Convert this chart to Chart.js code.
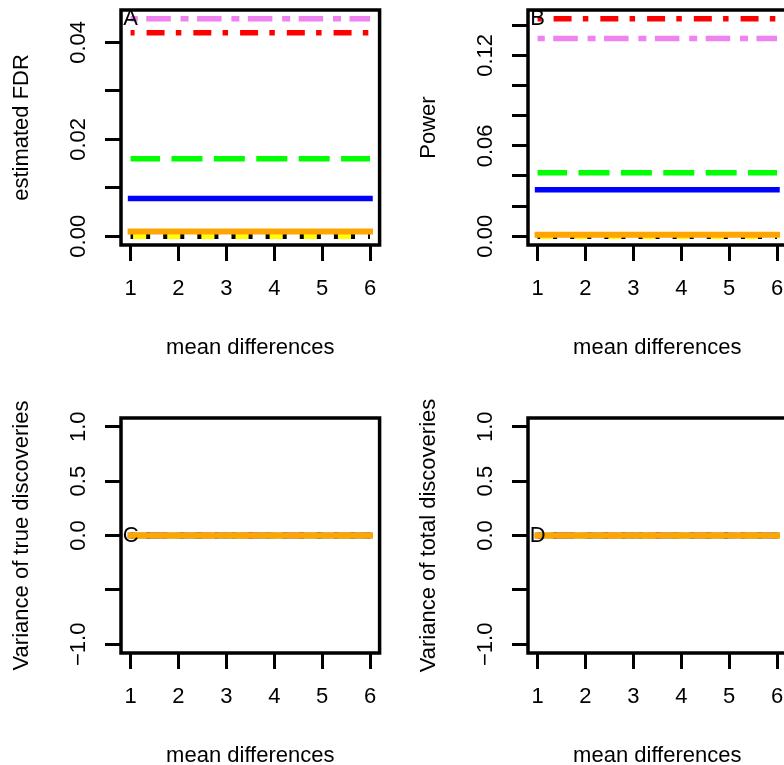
<!DOCTYPE html>
<html>
<head>
<meta charset="utf-8">
<script src="https://cdn.jsdelivr.net/npm/chart.js@4"></script>
<style>
  html, body { margin: 0; padding: 0; background: #fff; }
  body { width: 784px; height: 765px; overflow: hidden; position: relative; }
  canvas { position: absolute; }
</style>
</head>
<body>
<canvas id="panelA" width="400" height="440" style="left:0;top:-40px"></canvas>
<canvas id="panelB" width="400" height="440" style="left:407px;top:-40px"></canvas>
<canvas id="panelC" width="400" height="440" style="left:0;top:368px"></canvas>
<canvas id="panelD" width="400" height="440" style="left:407px;top:368px"></canvas>
<script>
const meanDiffs = [1, 2, 3, 4, 5, 6]

// A: estimated FDR
const fdrViolet = [0.0449, 0.0449, 0.0449, 0.0449, 0.0449, 0.0449]
const fdrRed = [0.0420, 0.0420, 0.0420, 0.0420, 0.0420, 0.0420]
const fdrGreen = [0.0160, 0.0160, 0.0160, 0.0160, 0.0160, 0.0160]
const fdrBlue = [0.0078, 0.0078, 0.0078, 0.0078, 0.0078, 0.0078]
const fdrYellow = [0, 0, 0, 0, 0, 0]
const fdrBlack = [0, 0, 0, 0, 0, 0]
const fdrOrange = [0.0010, 0.0010, 0.0010, 0.0010, 0.0010, 0.0010]

// B: power
const powViolet = [0.1311, 0.1311, 0.1311, 0.1311, 0.1311, 0.1311]
const powRed = [0.1443, 0.1443, 0.1443, 0.1443, 0.1443, 0.1443]
const powGreen = [0.0421, 0.0421, 0.0421, 0.0421, 0.0421, 0.0421]
const powBlue = [0.0309, 0.0309, 0.0309, 0.0309, 0.0309, 0.0309]
const powYellow = [0, 0, 0, 0, 0, 0]
const powBlack = [0, 0, 0, 0, 0, 0]
const powOrange = [0.0010, 0.0010, 0.0010, 0.0010, 0.0010, 0.0010]

// C: variance of true discoveries
const vtrueViolet = [0, 0, 0, 0, 0, 0]
const vtrueRed = [0, 0, 0, 0, 0, 0]
const vtrueGreen = [0, 0, 0, 0, 0, 0]
const vtrueBlue = [0, 0, 0, 0, 0, 0]
const vtrueYellow = [0, 0, 0, 0, 0, 0]
const vtrueBlack = [0, 0, 0, 0, 0, 0]
const vtrueOrange = [0, 0, 0, 0, 0, 0]

// D: variance of total discoveries
const vtotViolet = [0, 0, 0, 0, 0, 0]
const vtotRed = [0, 0, 0, 0, 0, 0]
const vtotGreen = [0, 0, 0, 0, 0, 0]
const vtotBlue = [0, 0, 0, 0, 0, 0]
const vtotYellow = [0, 0, 0, 0, 0, 0]
const vtotBlack = [0, 0, 0, 0, 0, 0]
const vtotOrange = [0, 0, 0, 0, 0, 0]

const xTicks = [1, 2, 3, 4, 5, 6]
const xTickLabels = ['1', '2', '3', '4', '5', '6']
const fdrTicks = [0, 0.01, 0.02, 0.03, 0.04]
const fdrTickLabels = ['0.00', '', '0.02', '', '0.04']
const powTicks = [0, 0.02, 0.04, 0.06, 0.08, 0.10, 0.12, 0.14]
const powTickLabels = ['0.00', '', '', '0.06', '', '', '0.12', '']
const varTicks = [-1, -0.5, 0, 0.5, 1]
const varTickLabels = ['\u22121.0', '', '0.0', '0.5', '1.0']

const FAMILY = "'Liberation Sans', Arial, sans-serif"
const FONT = { family: FAMILY, size: 22 }
Chart.defaults.font.family = FAMILY
Chart.defaults.color = '#000'

// dash patterns (px)
const styles = {
  orange: { color: '#FFA500', width: 6, dash: [], offset: 0, cap: 'square' },
  black: { color: '#000000', width: 5.5, dash: [4, 13.07], offset: 1.5, cap: 'butt' },
  yellow: { color: '#FFFF00', width: 5.5, dash: [17.07, 17.07], offset: 1.5, cap: 'butt' },
  blue: { color: '#0000FF', width: 5.5, dash: [], offset: 0, cap: 'square' },
  green: { color: '#00FF00', width: 5.5, dash: [31, 11.4], offset: 1.5, cap: 'butt' },
  red: { color: '#FF0000', width: 5.5, dash: [5.5, 12, 18, 11.25], offset: 1.5, cap: 'butt' },
  violet: { color: '#EE82EE', width: 5.5, dash: [8, 8.5, 24.5, 9.8], offset: 0.8, cap: 'butt' },
}

const measure = document.createElement('canvas').getContext('2d')
measure.font = '22px ' + FAMILY

function makePanel(id, letter, yTitle, series, yTicks, yTickLabels) {
  const all = series.flatMap((s) => s[1])
  const top = Math.max(...all)
  let lo = Math.min(...all)
  let hi = top
  if (lo === hi) { lo -= 1; hi += 1 }
  const pad = 0.04 * (hi - lo)
  const widest = Math.max(...yTickLabels.map((l) => measure.measureText(l).width))

  const datasets = series.map(([name, vals]) => {
    const st = styles[name]
    return {
      label: name,
      data: meanDiffs.map((x, i) => ({ x, y: vals[i] })),
      borderColor: st.color,
      backgroundColor: st.color,
      borderWidth: st.width,
      borderDash: st.dash,
      borderDashOffset: st.offset,
      borderCapStyle: st.cap,
      pointRadius: 0,
      tension: 0,
      fill: false,
    }
  })

  const grid = { drawOnChartArea: false, drawTicks: true, tickLength: 16, lineWidth: 3, color: '#000' }

  const decor = {
    id: 'decor',
    afterDatasetsDraw(chart) {
      const { ctx, scales } = chart
      ctx.save()
      ctx.font = '22px ' + FAMILY
      ctx.fillStyle = '#000'
      ctx.textAlign = 'center'
      ctx.textBaseline = 'middle'
      ctx.fillText(letter, scales.x.getPixelForValue(1), scales.y.getPixelForValue(top))
      ctx.restore()
    },
    afterDraw(chart) {
      const { ctx, chartArea: a } = chart
      ctx.save()
      ctx.strokeStyle = '#000'
      ctx.lineWidth = 3.5
      ctx.strokeRect(a.left, a.top, a.right - a.left, a.bottom - a.top)
      ctx.restore()
    },
  }

  return new Chart(document.getElementById(id), {
    type: 'line',
    data: { datasets },
    options: {
      responsive: false,
      animation: false,
      events: [],
      layout: { padding: { left: 0, top: 50, right: 20.4, bottom: 0 } },
      plugins: { legend: { display: false }, tooltip: { enabled: false } },
      scales: {
        x: {
          type: 'linear',
          min: 0.8,
          max: 6.2,
          afterBuildTicks: (s) => { s.ticks = xTicks.map((v) => ({ value: v })) },
          afterFit: (s) => { s.height = 155; s.paddingLeft = 0; s.paddingRight = 0 },
          ticks: {
            autoSkip: false,
            maxRotation: 0,
            padding: 15,
            font: FONT,
            callback: (v, i) => xTickLabels[i],
          },
          grid,
          border: { display: false },
          title: { display: true, text: 'mean differences', font: FONT, padding: { top: 0, bottom: 39 } },
        },
        y: {
          type: 'linear',
          min: lo - pad,
          max: hi + pad,
          afterBuildTicks: (s) => { s.ticks = yTicks.map((v) => ({ value: v })) },
          afterFit: (s) => { s.width = 121; s.paddingTop = 0; s.paddingBottom = 0 },
          ticks: {
            autoSkip: false,
            minRotation: 90,
            maxRotation: 90,
            crossAlign: 'center',
            padding: 26 - widest / 2,
            font: FONT,
            callback: (v, i) => yTickLabels[i],
          },
          grid,
          border: { display: false },
          title: { display: true, text: yTitle, font: FONT, padding: { top: 8.8, bottom: 0 } },
        },
      },
    },
    plugins: [decor],
  })
}

makePanel('panelA', 'A', 'estimated FDR', [
  ['orange', fdrOrange], ['black', fdrBlack], ['yellow', fdrYellow], ['blue', fdrBlue],
  ['green', fdrGreen], ['red', fdrRed], ['violet', fdrViolet],
], fdrTicks, fdrTickLabels)

makePanel('panelB', 'B', 'Power', [
  ['orange', powOrange], ['black', powBlack], ['yellow', powYellow], ['blue', powBlue],
  ['green', powGreen], ['red', powRed], ['violet', powViolet],
], powTicks, powTickLabels)

makePanel('panelC', 'C', 'Variance of true discoveries', [
  ['orange', vtrueOrange], ['black', vtrueBlack], ['yellow', vtrueYellow], ['blue', vtrueBlue],
  ['green', vtrueGreen], ['red', vtrueRed], ['violet', vtrueViolet],
], varTicks, varTickLabels)

makePanel('panelD', 'D', 'Variance of total discoveries', [
  ['orange', vtotOrange], ['black', vtotBlack], ['yellow', vtotYellow], ['blue', vtotBlue],
  ['green', vtotGreen], ['red', vtotRed], ['violet', vtotViolet],
], varTicks, varTickLabels)
</script>
</body>
</html>
